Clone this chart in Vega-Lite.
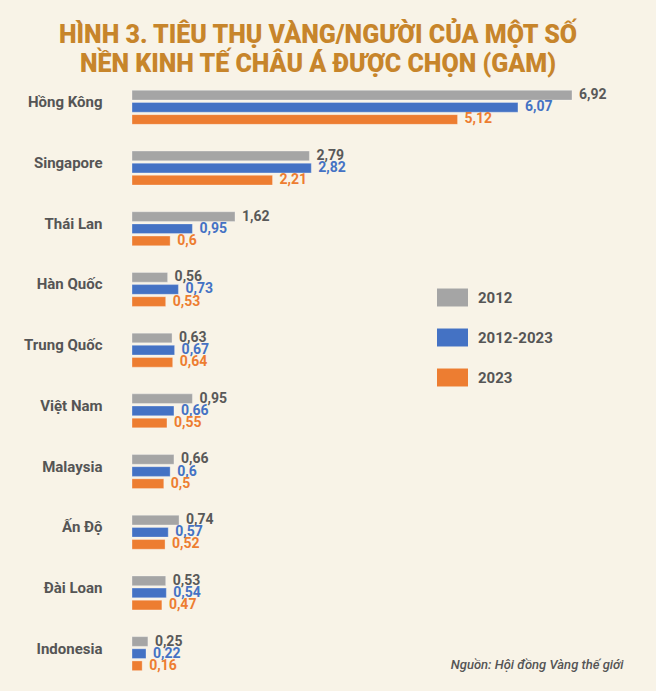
{
  "$schema": "https://vega.github.io/schema/vega-lite/v6.json",
  "autosize": {"type": "none"},
  "padding": {"left": 132, "top": 77, "right": 84, "bottom": 7},
  "width": 440,
  "height": 607,
  "background": "#f8f3e7",
  "title": {
    "text": ["HÌNH 3. TIÊU THỤ VÀNG/NGƯỜI CỦA MỘT SỐ", "NỀN KINH TẾ CHÂU Á ĐƯỢC CHỌN (GAM)"],
    "anchor": "middle",
    "frame": "group",
    "dx": -34,
    "offset": 0,
    "font": "Roboto",
    "fontSize": 25,
    "fontWeight": 900,
    "lineHeight": 29,
    "color": "#c7852b"
  },
  "data": {
    "values": [
      {"country": "Hồng Kông", "series": "2012", "value": 6.92},
      {"country": "Hồng Kông", "series": "2012-2023", "value": 6.07},
      {"country": "Hồng Kông", "series": "2023", "value": 5.12},
      {"country": "Singapore", "series": "2012", "value": 2.79},
      {"country": "Singapore", "series": "2012-2023", "value": 2.82},
      {"country": "Singapore", "series": "2023", "value": 2.21},
      {"country": "Thái Lan", "series": "2012", "value": 1.62},
      {"country": "Thái Lan", "series": "2012-2023", "value": 0.95},
      {"country": "Thái Lan", "series": "2023", "value": 0.6},
      {"country": "Hàn Quốc", "series": "2012", "value": 0.56},
      {"country": "Hàn Quốc", "series": "2012-2023", "value": 0.73},
      {"country": "Hàn Quốc", "series": "2023", "value": 0.53},
      {"country": "Trung Quốc", "series": "2012", "value": 0.63},
      {"country": "Trung Quốc", "series": "2012-2023", "value": 0.67},
      {"country": "Trung Quốc", "series": "2023", "value": 0.64},
      {"country": "Việt Nam", "series": "2012", "value": 0.95},
      {"country": "Việt Nam", "series": "2012-2023", "value": 0.66},
      {"country": "Việt Nam", "series": "2023", "value": 0.55},
      {"country": "Malaysia", "series": "2012", "value": 0.66},
      {"country": "Malaysia", "series": "2012-2023", "value": 0.6},
      {"country": "Malaysia", "series": "2023", "value": 0.5},
      {"country": "Ấn Độ", "series": "2012", "value": 0.74},
      {"country": "Ấn Độ", "series": "2012-2023", "value": 0.57},
      {"country": "Ấn Độ", "series": "2023", "value": 0.52},
      {"country": "Đài Loan", "series": "2012", "value": 0.53},
      {"country": "Đài Loan", "series": "2012-2023", "value": 0.54},
      {"country": "Đài Loan", "series": "2023", "value": 0.47},
      {"country": "Indonesia", "series": "2012", "value": 0.25},
      {"country": "Indonesia", "series": "2012-2023", "value": 0.22},
      {"country": "Indonesia", "series": "2023", "value": 0.16}
    ]
  },
  "encoding": {
    "y": {
      "field": "country",
      "type": "nominal",
      "sort": null,
      "scale": {"paddingInner": 0.44, "paddingOuter": 0.22},
      "axis": {
        "title": null,
        "domain": false,
        "ticks": false,
        "labelPadding": 30,
        "labelOffset": -5,
        "labelFont": "Roboto",
        "labelFontSize": 15,
        "labelFontWeight": "bold",
        "labelColor": "#555555"
      }
    },
    "yOffset": {
      "field": "series",
      "type": "nominal",
      "sort": ["2012", "2012-2023", "2023"],
      "scale": {"paddingInner": 0.2, "paddingOuter": 0}
    },
    "x": {
      "field": "value",
      "type": "quantitative",
      "scale": {"domain": [0, 6.92], "nice": false, "zero": true},
      "axis": {
        "domain": false,
        "ticks": false,
        "labels": false,
        "grid": false,
        "title": "Nguồn: Hội đồng Vàng thế giới",
        "titleFont": "Roboto",
        "titleFontSize": 13,
        "titleFontStyle": "italic",
        "titleFontWeight": 500,
        "titleColor": "#555555",
        "titleAlign": "right",
        "titleAnchor": null,
        "titleX": 491,
        "titleY": -16,
        "titleBaseline": "alphabetic"
      }
    }
  },
  "layer": [
    {
      "mark": {"type": "bar", "stroke": "#ffffff", "strokeWidth": 0.6, "strokeOpacity": 0.5},
      "encoding": {
        "color": {
          "field": "series",
          "type": "nominal",
          "scale": {
            "domain": ["2012", "2012-2023", "2023"],
            "range": ["#a5a5a5", "#4472c4", "#ed7d31"]
          },
          "legend": {
            "title": null,
            "orient": "none",
            "legendX": 305,
            "legendY": 205,
            "symbolType": "M-1,-0.58H1V0.58H-1Z",
            "symbolSize": 961,
            "symbolStrokeWidth": 0,
            "labelOffset": 10,
            "rowPadding": 15,
            "labelFont": "Roboto",
            "labelFontSize": 15,
            "labelFontWeight": "bold",
            "labelColor": "#555555"
          }
        }
      }
    },
    {
      "mark": {
        "type": "text",
        "align": "left",
        "baseline": "middle",
        "dx": 7,
        "font": "Roboto",
        "fontSize": 14,
        "fontWeight": "bold"
      },
      "encoding": {
        "text": {"field": "value", "type": "quantitative", "format": ".2~f"},
        "color": {
          "field": "series",
          "type": "nominal",
          "scale": {
            "domain": ["2012", "2012-2023", "2023"],
            "range": ["#595959", "#4472c4", "#ed7d31"]
          },
          "legend": null
        }
      }
    }
  ],
  "resolve": {"scale": {"color": "independent"}},
  "config": {
    "view": {"stroke": null},
    "locale": {
      "number": {"decimal": ",", "thousands": ".", "grouping": [3], "currency": ["", ""]}
    }
  }
}
